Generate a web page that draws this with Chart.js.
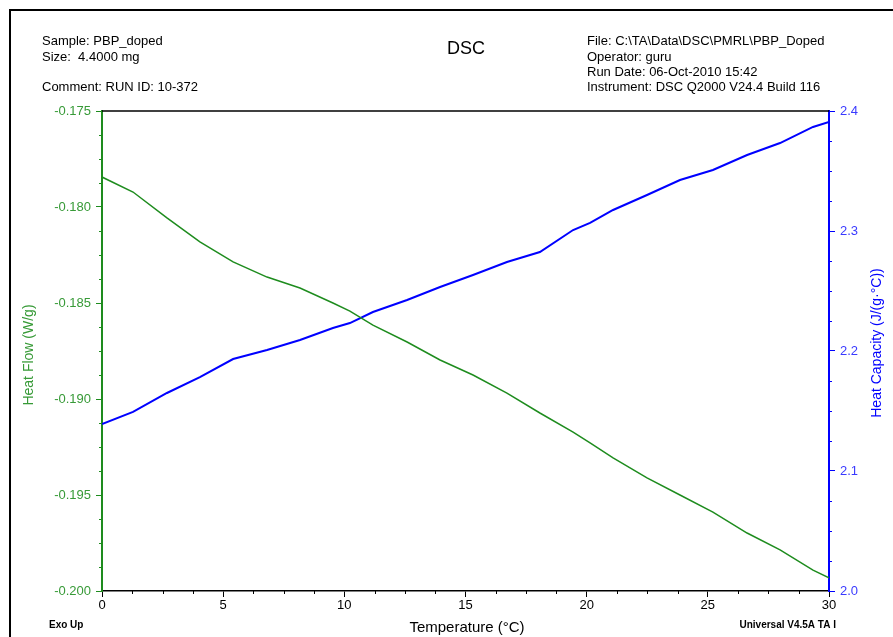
<!DOCTYPE html>
<html>
<head>
<meta charset="utf-8">
<title>DSC</title>
<script src="https://cdn.jsdelivr.net/npm/chart.js@4"></script>
<style>
  body { margin: 0; background: #fff; }
  #wrap { width: 893px; height: 637px; position: relative; }
</style>
</head>
<body>
<div id="wrap"><canvas id="dscChart"></canvas></div>
<script>
// valores
const temperature = [0, 1.28, 2.68, 4.04, 5.41, 6.81, 8.17, 9.53, 10.23, 11.18, 12.59, 13.95,
  15.31, 16.71, 18.07, 19.44, 20.14, 21.09, 22.49, 23.85, 25.21, 26.62, 27.98, 29.34, 30];
const heatFlow = [-0.17844, -0.17922, -0.18057, -0.18182, -0.18286, -0.18365, -0.18422, -0.18500,
  -0.18542, -0.18615, -0.18703, -0.18797, -0.18875, -0.18969, -0.19073, -0.19172, -0.19229,
  -0.19307, -0.19411, -0.19500, -0.19589, -0.19698, -0.19786, -0.19891, -0.19932];
const heatCapacity = [2.1392, 2.1492, 2.1650, 2.1783, 2.1933, 2.2008, 2.2092, 2.2192, 2.2233,
  2.2325, 2.2425, 2.2533, 2.2633, 2.2742, 2.2825, 2.3008, 2.3067, 2.3175, 2.3300, 2.3425,
  2.3508, 2.3633, 2.3733, 2.3867, 2.3908];

const xTicks = [0, 5, 10, 15, 20, 25, 30];
const heatFlowTicks = [-0.200, -0.195, -0.190, -0.185, -0.180, -0.175];
const heatCapacityTicks = [2.0, 2.1, 2.2, 2.3, 2.4];

const headerLeft = ['Sample: PBP_doped', 'Size:  4.4000 mg', '', 'Comment: RUN ID: 10-372'];
const headerRight = ['File: C:\\TA\\Data\\DSC\\PMRL\\PBP_Doped', 'Operator: guru',
  'Run Date: 06-Oct-2010 15:42', 'Instrument: DSC Q2000 V24.4 Build 116'];

const GREEN = '#1e8c1e';
const GREEN_TXT = '#379a37';
const BLUE = '#0000ff';
const BLUE_TXT = '#3a3aff';
const FONT = '"Liberation Sans", Arial, sans-serif';

// moldura, ticks menores e textos
const decorations = {
  id: 'decorations',
  afterDraw(chart) {
    const { ctx, chartArea: a, scales } = chart;
    ctx.save();

    ctx.strokeStyle = '#000';
    ctx.lineWidth = 2;
    ctx.beginPath();
    ctx.moveTo(10, 637);
    ctx.lineTo(10, 10);
    ctx.lineTo(893, 10);
    ctx.stroke();

    ctx.lineWidth = 1.5;
    ctx.beginPath();
    ctx.moveTo(a.left, a.top);
    ctx.lineTo(a.right, a.top);
    ctx.stroke();

    // ticks menores (4 divisões entre os maiores)
    ctx.lineWidth = 1;
    ctx.strokeStyle = '#000';
    for (let i = 0; i <= 24; i++) {
      if (i % 4 === 0) continue;
      const px = Math.round(scales.x.getPixelForValue(i * 1.25)) + 0.5;
      ctx.beginPath(); ctx.moveTo(px, a.bottom); ctx.lineTo(px, a.bottom + 3); ctx.stroke();
    }
    ctx.strokeStyle = GREEN;
    for (let i = 0; i <= 20; i++) {
      if (i % 4 === 0) continue;
      const py = Math.round(scales.yHF.getPixelForValue(-0.2 + i * 0.00125)) + 0.5;
      ctx.beginPath(); ctx.moveTo(a.left - 3, py); ctx.lineTo(a.left, py); ctx.stroke();
    }
    ctx.strokeStyle = BLUE;
    for (let i = 0; i <= 16; i++) {
      if (i % 4 === 0) continue;
      const py = Math.round(scales.yCp.getPixelForValue(2.0 + i * 0.025)) + 0.5;
      ctx.beginPath(); ctx.moveTo(a.right, py); ctx.lineTo(a.right + 3, py); ctx.stroke();
    }

    // cabeçalho
    ctx.fillStyle = '#000';
    ctx.textBaseline = 'middle';
    ctx.textAlign = 'left';
    ctx.font = '13px ' + FONT;
    const leftY = [41, 57, 72, 87];
    headerLeft.forEach((t, i) => ctx.fillText(t, 42, leftY[i]));
    headerRight.forEach((t, i) => ctx.fillText(t, 587, leftY[i]));
    ctx.textAlign = 'center';
    ctx.font = '18px ' + FONT;
    ctx.fillText('DSC', 466, 49);

    // rodapé
    ctx.font = '15px ' + FONT;
    ctx.fillText('Temperature (°C)', 467, 628);
    ctx.font = 'bold 10px ' + FONT;
    ctx.textAlign = 'left';
    ctx.fillText('Exo Up', 49, 625);
    ctx.textAlign = 'right';
    ctx.fillText('Universal V4.5A TA I', 836, 625);

    // títulos dos eixos
    ctx.textAlign = 'center';
    ctx.font = '14px ' + FONT;
    ctx.fillStyle = GREEN_TXT;
    ctx.save();
    ctx.translate(29, 355);
    ctx.rotate(-Math.PI / 2);
    ctx.fillText('Heat Flow (W/g)', 0, 0);
    ctx.restore();
    ctx.fillStyle = BLUE;
    ctx.save();
    ctx.translate(877, 343);
    ctx.rotate(-Math.PI / 2);
    ctx.fillText('Heat Capacity (J/(g·°C))', 0, 0);
    ctx.restore();

    ctx.restore();
  }
};

const ctx = document.getElementById('dscChart').getContext('2d');
new Chart(ctx, {
  type: 'line',
  data: {
    datasets: [{
      label: 'Heat Flow',
      data: temperature.map((t, i) => ({ x: t, y: heatFlow[i] })),
      borderColor: GREEN,
      borderWidth: 1.5,
      pointRadius: 0,
      tension: 0,
      fill: false,
      yAxisID: 'yHF'
    }, {
      label: 'Heat Capacity',
      data: temperature.map((t, i) => ({ x: t, y: heatCapacity[i] })),
      borderColor: BLUE,
      borderWidth: 2,
      pointRadius: 0,
      tension: 0,
      fill: false,
      yAxisID: 'yCp'
    }]
  },
  options: {
    responsive: true,
    maintainAspectRatio: false,
    animation: false,
    layout: { padding: { top: 111, left: 0, right: 0, bottom: 0 } },
    plugins: { legend: { display: false }, tooltip: { enabled: false } },
    scales: {
      x: {
        type: 'linear',
        position: 'bottom',
        min: 0,
        max: 30,
        afterFit: (s) => { s.height = 46; },
        afterBuildTicks: (s) => { s.ticks = xTicks.map(v => ({ value: v })); },
        ticks: {
          color: '#000',
          padding: 1,
          maxRotation: 0,
          font: { size: 13, family: FONT },
          callback: (v) => String(v)
        },
        grid: { drawOnChartArea: false, drawTicks: true, tickLength: 6, color: '#000' },
        border: { display: true, color: '#000', width: 1.5 }
      },
      yHF: {
        type: 'linear',
        position: 'left',
        min: -0.200,
        max: -0.175,
        afterFit: (s) => { s.width = 102; },
        afterBuildTicks: (s) => { s.ticks = heatFlowTicks.map(v => ({ value: v })); },
        ticks: {
          color: GREEN_TXT,
          padding: 5,
          font: { size: 13, family: FONT },
          callback: (v) => Number(v).toFixed(3)
        },
        grid: { drawOnChartArea: false, drawTicks: true, tickLength: 6, color: GREEN },
        border: { display: true, color: GREEN, width: 2 }
      },
      yCp: {
        type: 'linear',
        position: 'right',
        min: 2.0,
        max: 2.4,
        afterFit: (s) => { s.width = 64; },
        afterBuildTicks: (s) => { s.ticks = heatCapacityTicks.map(v => ({ value: v })); },
        ticks: {
          color: BLUE_TXT,
          padding: 5,
          font: { size: 13, family: FONT },
          callback: (v) => Number(v).toFixed(1)
        },
        grid: { drawOnChartArea: false, drawTicks: true, tickLength: 6, color: BLUE },
        border: { display: true, color: BLUE, width: 2 }
      }
    }
  },
  plugins: [decorations]
});
</script>
</body>
</html>
